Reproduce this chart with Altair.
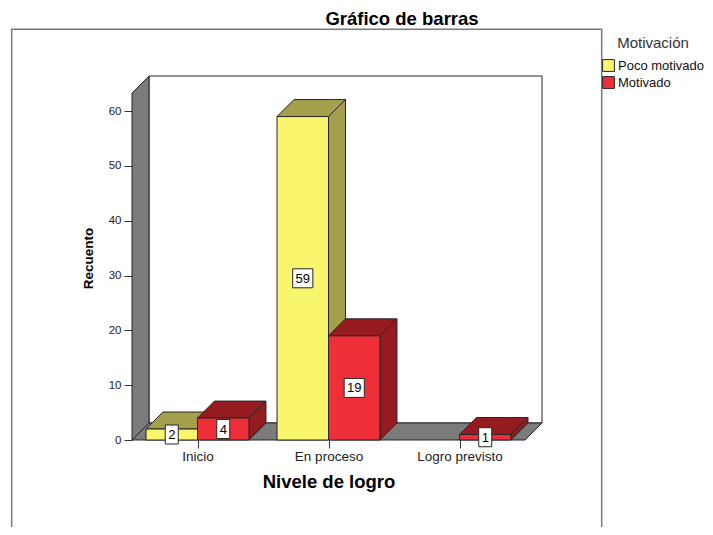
import json
import pandas as pd
import altair as alt

# ---------------- data ----------------
categorias = ["Inicio", "En proceso", "Logro previsto"]
series = ["Poco motivado", "Motivado"]
poco_motivado = [2, 59, 0]
motivado = [4, 19, 1]
valores_y = [0, 10, 20, 30, 40, 50, 60]

titulo = "Gráfico de barras"
titulo_x = "Nivele de logro"
titulo_y = "Recuento"
titulo_leyenda = "Motivación"

# ---------------- style ----------------
COL_FRENTE = ["#F9F56D", "#EF2F38"]
COL_OSCURO = ["#A39F4B", "#951B20"]
GRIS = "#7B7B7B"
LINEA = "#262626"
FUENTE = "Liberation Sans"

PX_CAT = 131.0      # pixels per category
PX_UNIT = 5.48      # pixels per count unit
PROF = 17.0         # 3D depth in pixels
DX = PROF / PX_CAT
DY = PROF / PX_UNIT
MEDIO = 0.393       # bar width in category units
Y_FRENTE = 63.3
X_MIN = -0.5
X_FRENTE = len(categorias) - 0.5
X_MAX = X_FRENTE + DX
Y_MAX = Y_FRENTE + DY
W = round((X_MAX - X_MIN) * PX_CAT)
H = round(Y_MAX * PX_UNIT)


def cara_superior(x0, x1, v):
    """Top face as a vertical area: rows of (x, y_low, y_high)."""
    xs_ = sorted({x0, x0 + DX, x1, x1 + DX})
    return [(x, v + max(0.0, x - x1) * DY / DX, v + min(x - x0, DX) * DY / DX)
            for x in xs_]


def cara_lateral(x, v):
    """Side face as a vertical area."""
    return [(x, 0.0, v), (x + DX, DY, v + DY)]


barras, caras, etiquetas = [], [], []
k = 0
for i, cat in enumerate(categorias):
    for j, (serie, vals) in enumerate(zip(series, [poco_motivado, motivado])):
        v = vals[i]
        if v <= 0:
            continue
        x0 = i - MEDIO + j * MEDIO
        x1 = x0 + MEDIO
        barras.append(dict(barra=k, serie=serie, x0=x0, x1=x1, y0=0, y1=v))
        for (x, ya, yb) in cara_superior(x0, x1, v):
            caras.append(dict(barra=k, serie=serie, cara="arriba", x=x, ya=ya, yb=yb))
        for (x, ya, yb) in cara_lateral(x1, v):
            caras.append(dict(barra=k, serie=serie, cara="lado", x=x, ya=ya, yb=yb))
        etiquetas.append(dict(serie=serie, xc=(x0 + x1) / 2, yc=v / 2, valor=v))
        k += 1
n_barras = k

df_barras = pd.DataFrame(barras)
df_caras = pd.DataFrame(caras)
df_etiq = pd.DataFrame(etiquetas)

paredes = []
for (x, ya, yb) in cara_lateral(X_MIN, Y_FRENTE):
    paredes.append(dict(pieza="izq", x=x, ya=ya, yb=yb))
for (x, ya, yb) in cara_superior(X_MIN, X_FRENTE, 0.0):
    paredes.append(dict(pieza="piso", x=x, ya=ya, yb=yb))
df_paredes = pd.DataFrame(paredes)

xs = alt.Scale(domain=[X_MIN, X_MAX], nice=False, zero=False)
ys = alt.Scale(domain=[0, Y_MAX], nice=False, zero=False)

eje_x = alt.Axis(
    values=[0, 1, 2],
    labelExpr=f"{json.dumps(categorias)}[datum.value]",
    title=titulo_x, titleX=(1.0 - X_MIN) * PX_CAT,
    tickSize=8, labelPadding=1, titlePadding=10,
    domain=False, grid=False,
    labelFontSize=13.5, titleFontSize=18.5, titleFontWeight="bold",
)
eje_y = alt.Axis(
    values=valores_y, title=titulo_y,
    tickSize=8, labelPadding=3, titlePadding=13,
    domain=False, grid=False,
    labelFontSize=11.5, titleFontSize=13.5, titleFontWeight="bold",
)

leyenda = alt.Legend(
    title=titulo_leyenda, orient="none", legendX=470, legendY=-40,
    titleAnchor="middle", titleFontSize=15, titleFontWeight="normal",
    titleColor="#333333", titleFont=FUENTE, titlePadding=8,
    labelFont=FUENTE, labelFontSize=13, labelColor="#111111", labelOffset=3,
    symbolType="square", symbolSize=140, symbolStrokeColor=LINEA,
    symbolStrokeWidth=1, symbolOpacity=1, rowPadding=0, padding=0,
)


def ejex(campo):
    return alt.X(campo, scale=xs, axis=eje_x)


def ejey(campo):
    return alt.Y(campo, scale=ys, axis=eje_y, stack=None)


marco = alt.Chart(pd.DataFrame({"a": [0]})).mark_rect(
    fillOpacity=0, stroke="#7a7a7a", strokeWidth=1.5
).encode(
    x=alt.value(-120.3), x2=alt.value(469.7),
    y=alt.value(-46.7), y2=alt.value(H + 200),
)

fondo = alt.Chart(pd.DataFrame({"x0": [X_MIN + DX], "x1": [X_MAX],
                                "y0": [DY], "y1": [Y_MAX]})).mark_rect(
    fill="white", stroke=LINEA, strokeWidth=1
).encode(x=ejex("x0:Q"), x2="x1:Q", y=ejey("y0:Q"), y2="y1:Q")

muros = alt.Chart(df_paredes).mark_area(
    fill=GRIS, stroke=LINEA, strokeWidth=1, fillOpacity=1
).encode(
    x=ejex("x:Q"), y=ejey("ya:Q"), y2="yb:Q", detail="pieza:N",
)

capas = [marco, fondo, muros]
for b in range(n_barras):
    sombra = alt.Chart(df_caras).transform_filter(alt.datum.barra == b).mark_area(
        stroke=LINEA, strokeWidth=1, fillOpacity=1
    ).encode(
        x=ejex("x:Q"), y=ejey("ya:Q"), y2="yb:Q", detail="cara:N",
        fill=alt.condition(f"datum.serie == '{series[1]}'",
                           alt.value(COL_OSCURO[1]), alt.value(COL_OSCURO[0])),
    )
    frente = alt.Chart(df_barras).transform_filter(alt.datum.barra == b).mark_rect(
        stroke=LINEA, strokeWidth=1
    ).encode(
        x=ejex("x0:Q"), x2="x1:Q", y=ejey("y0:Q"), y2="y1:Q",
        color=alt.Color("serie:N", scale=alt.Scale(domain=series, range=COL_FRENTE),
                        legend=leyenda),
    )
    capas += [sombra, frente]

P1 = "M-0.684,-1H0.684V1H-0.684Z"
P2 = "M-1.06,-1H1.06V1H-1.06Z"
cajas = alt.Chart(df_etiq).mark_point(
    filled=True, fill="white", stroke=LINEA, strokeWidth=1, opacity=1, size=361
).encode(
    x=ejex("xc:Q"), y=ejey("yc:Q"),
    shape=alt.condition("datum.valor >= 10", alt.value(P2), alt.value(P1)),
)
textos = alt.Chart(df_etiq).mark_text(
    font=FUENTE, fontSize=13, color="black", baseline="middle", align="center", dy=0.5
).encode(x=ejex("xc:Q"), y=ejey("yc:Q"), text="valor:Q")
capas += [cajas, textos]

chart = alt.layer(*capas).properties(
    width=W, height=H,
    title=alt.TitleParams(titulo, font=FUENTE, fontSize=18.5, fontWeight="bold",
                          color="black", anchor="middle", dx=65, dy=3.5),
    autosize=alt.AutoSizeParams(type="none"),
    padding={"left": 124, "top": 68, "right": 163, "bottom": 87},
).configure_view(stroke=None).configure_axis(
    labelFont=FUENTE, titleFont=FUENTE, labelColor="#222222",
    tickColor="#333333", titleColor="#000000",
)

chart.save("out.html", embed_options={"renderer": "svg", "actions": False})
